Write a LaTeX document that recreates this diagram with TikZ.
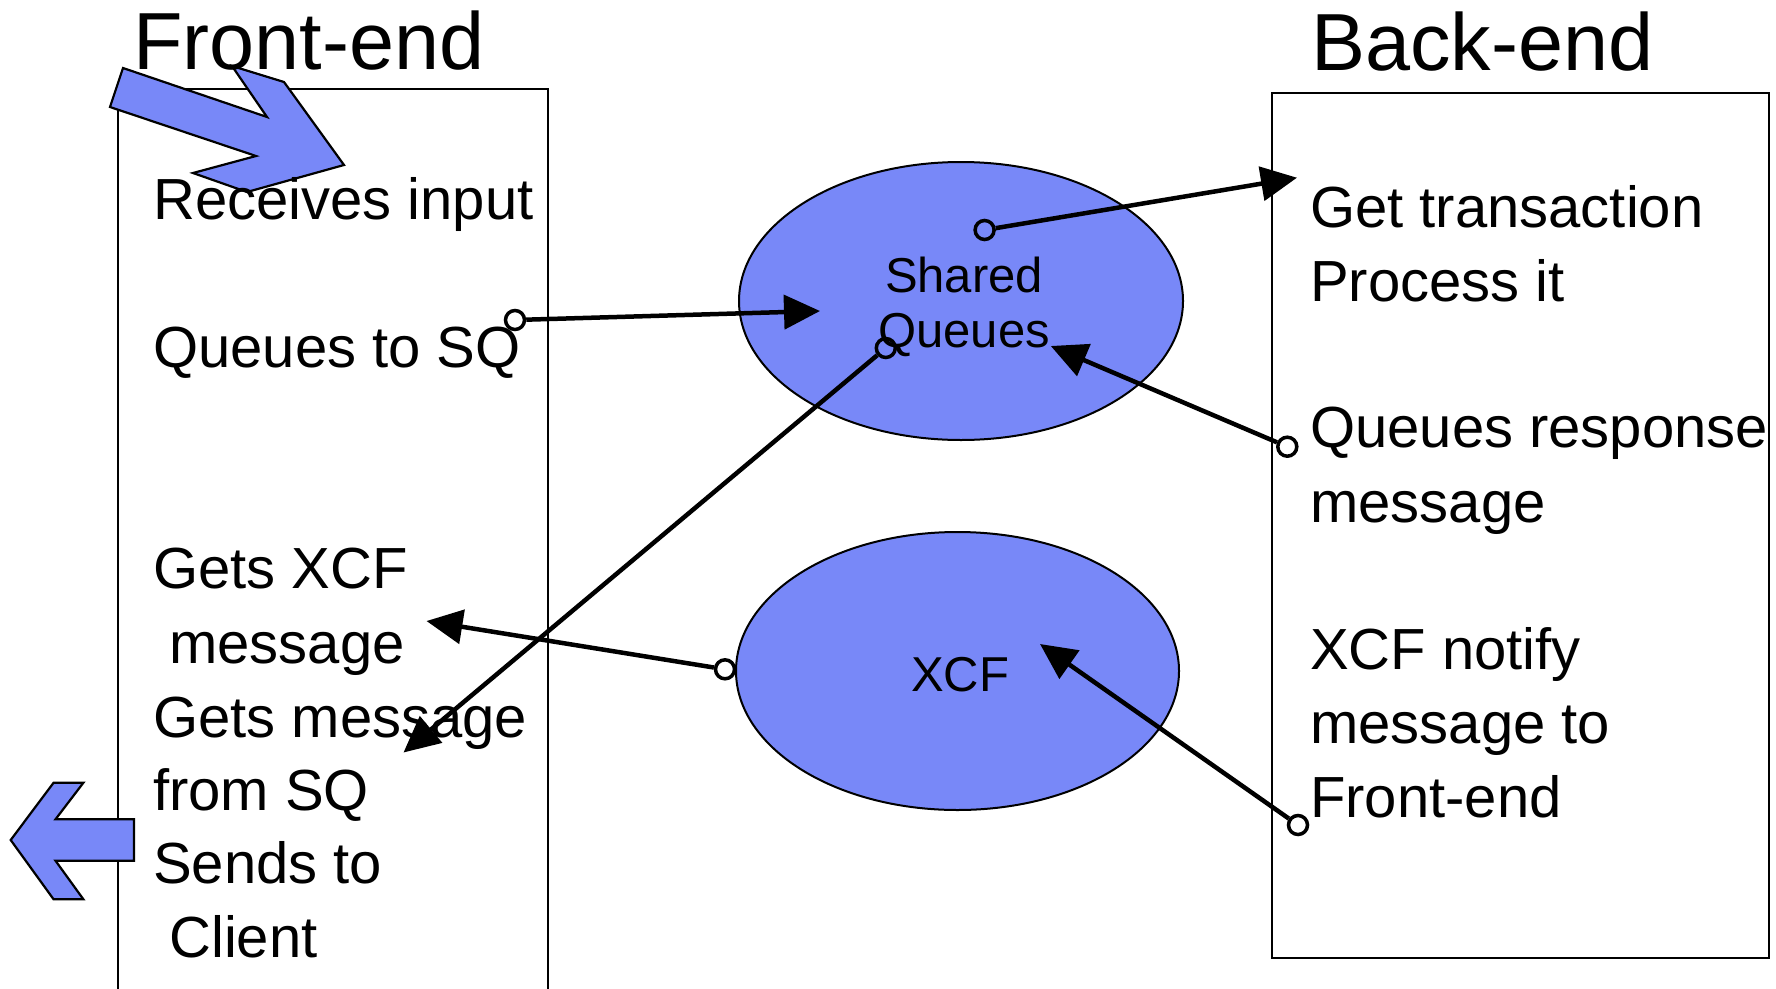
\documentclass[tikz,border=0pt]{standalone}
\usepackage{fontspec}
\setmainfont{Liberation Sans}
\usetikzlibrary{arrows.meta,shapes.geometric}
\definecolor{qblue}{RGB}{120,136,248}

\begin{document}
\begin{tikzpicture}[x=1pt,y=-1pt,
  panel/.style={draw=black, line width=2pt, rectangle, inner sep=0pt, anchor=north west},
  pool/.style={draw=black, line width=2pt, fill=qblue, ellipse, inner sep=0pt},
  bigarrow/.style={draw=black, line width=2.2pt, fill=qblue, line join=miter},
  title/.style={anchor=base west, inner sep=0pt, font=\fontsize{81}{81}\selectfont},
  item/.style={anchor=base west, inner sep=0pt, font=\fontsize{58}{58}\selectfont},
  label/.style={anchor=base, inner sep=0pt, font=\fontsize{49}{49}\selectfont},
  port/.style={circle, draw=black, line width=3.5pt, minimum size=19pt, inner sep=0pt},
  link/.style={line width=4.5pt, -{Triangle[length=36pt,width=34pt]}},
]
\useasboundingbox (0,0) rectangle (1776,988);

% the two processing regions
\node[panel, minimum width=430pt, minimum height=920pt] (front) at (117,88) {};
\node[panel, minimum width=497pt, minimum height=865pt] (back) at (1271,92) {};

% input and output arrows of the front-end
\draw[bigarrow] (123,68) -- (267,117) -- (232,66) -- (284,82) -- (344,165)
  -- (247,192) -- (193,173) -- (256,156) -- (110,107) -- cycle;
\draw[bigarrow] (53.6,782.7) -- (83.4,782.7) -- (55.5,819.3) -- (134,819.3)
  -- (134,860.7) -- (55.5,860.7) -- (83.4,899.3) -- (53.6,899.3) -- (10.7,840) -- cycle;

% coupling facility structures
\node[pool, minimum width=444pt, minimum height=278pt] (sq) at (961,301) {};
\node[pool, minimum width=443pt, minimum height=278pt] (xcf) at (957.5,671) {};

% titles
\node[title] (fetitle) at (133,69) {Front-end};
\node[title] (betitle) at (1311,70) {Back-end};

% front-end steps
\node[item] (f1) at (153,219) {Receives input};
\node[item] (f2) at (153,367) {Queues to SQ};
\node[item] (f3) at (153,588) {Gets XCF};
\node[item] (f4) at (153,663) {\ message};
\node[item] (f5) at (153,737) {Gets message};
\node[item] (f6) at (153,810) {from SQ};
\node[item] (f7) at (153,883) {Sends to};
\node[item] (f8) at (153,957) {\ Client};

% back-end steps
\node[item] (b1) at (1310,227) {Get transaction};
\node[item] (b2) at (1310,301) {Process it};
\node[item] (b3) at (1310,447) {Queues response};
\node[item] (b4) at (1310,522) {message};
\node[item] (b5) at (1310,669) {XCF notify};
\node[item] (b6) at (1310,743) {message to};
\node[item] (b7) at (1310,817) {Front-end};

% structure labels
\node[label] (sqa) at (964,292) {Shared};
\node[label] (sqb) at (964,347) {Queues};
\node[label] (xcfl) at (960,691) {XCF};

% connector origins
\node[port] (pa) at (515,320) {};
\node[port] (pb) at (984.6,230) {};
\node[port] (pc) at (1287.3,446.7) {};
\node[port] (pd) at (885.8,348) {};
\node[port] (pe) at (725,669.3) {};
\node[port] (pf) at (1298,825) {};

% connector targets
\coordinate (ta) at (820,311);
\coordinate (tb) at (1297,177.7);
\coordinate (tc) at (1050.8,346);
\coordinate (td) at (403.5,752.5);
\coordinate (te) at (426.5,621);
\coordinate (tf) at (1040,644);

\draw[link] (pa) -- (ta);
\draw[link] (pb) -- (tb);
\draw[link] (pc) -- (tc);
\draw[link] (pd) -- (td);
\draw[link] (pe) -- (te);
\draw[link] (pf) -- (tf);
\end{tikzpicture}
\end{document}
